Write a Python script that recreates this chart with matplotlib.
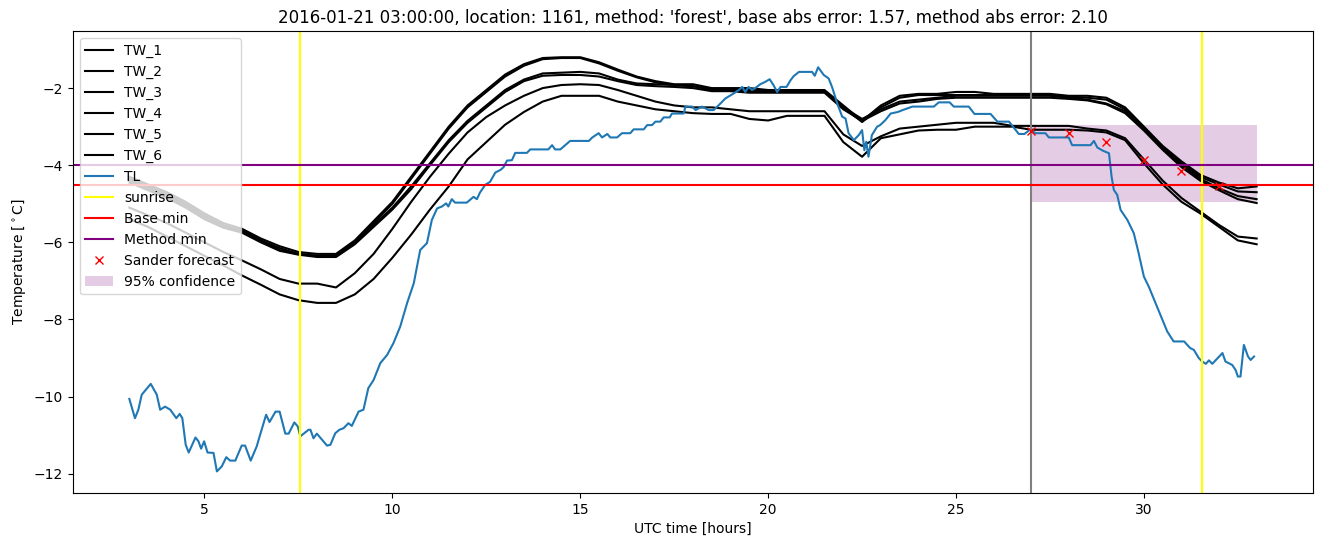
import numpy as np
from matplotlib import pyplot as plt

# time grid for the TW sensors (hours UTC from 2016-01-21 00:00)
tw_hours = np.arange(3.0, 33.01, 0.5)

tw_1 = [-4.30, -4.50, -4.70, -4.95, -5.25, -5.50, -5.65, -5.90, -6.10, -6.25,
        -6.30, -6.30, -5.95, -5.45, -4.95, -4.30, -3.65, -3.00, -2.45, -2.05,
        -1.65, -1.38, -1.22, -1.20, -1.20, -1.33, -1.52, -1.70, -1.82, -1.90,
        -1.90, -2.00, -2.00, -2.00, -2.05, -2.05, -2.05, -2.05, -2.45, -2.85,
        -2.45, -2.20, -2.15, -2.15, -2.10, -2.10, -2.15, -2.15, -2.15, -2.15,
        -2.20, -2.20, -2.25, -2.50, -3.00, -3.50, -3.90, -4.25, -4.45, -4.60, -4.55]
tw_2 = [-4.35, -4.55, -4.75, -5.00, -5.30, -5.55, -5.70, -5.95, -6.15, -6.30,
        -6.35, -6.35, -6.00, -5.50, -5.00, -4.35, -3.70, -3.05, -2.50, -2.10,
        -1.70, -1.42, -1.25, -1.22, -1.22, -1.36, -1.55, -1.72, -1.85, -1.92,
        -1.95, -2.02, -2.02, -2.05, -2.08, -2.08, -2.08, -2.08, -2.50, -2.88,
        -2.50, -2.25, -2.18, -2.18, -2.18, -2.18, -2.18, -2.18, -2.18, -2.18,
        -2.22, -2.25, -2.30, -2.55, -3.05, -3.55, -3.95, -4.30, -4.50, -4.68, -4.70]
tw_3 = [-4.40, -4.60, -4.80, -5.05, -5.35, -5.60, -5.70, -5.95, -6.20, -6.30,
        -6.35, -6.35, -6.00, -5.55, -5.10, -4.55, -3.95, -3.35, -2.85, -2.45,
        -2.05, -1.78, -1.62, -1.60, -1.58, -1.62, -1.78, -1.88, -1.90, -1.92,
        -1.95, -2.05, -2.05, -2.10, -2.10, -2.10, -2.10, -2.10, -2.50, -2.80,
        -2.55, -2.35, -2.30, -2.25, -2.20, -2.20, -2.20, -2.20, -2.20, -2.20,
        -2.25, -2.30, -2.40, -2.60, -3.05, -3.55, -4.00, -4.35, -4.60, -4.80, -4.88]
tw_4 = [-4.45, -4.65, -4.85, -5.10, -5.40, -5.62, -5.75, -6.00, -6.22, -6.32,
        -6.38, -6.38, -6.05, -5.60, -5.15, -4.62, -4.00, -3.40, -2.90, -2.50,
        -2.10, -1.82, -1.68, -1.66, -1.66, -1.70, -1.82, -1.92, -1.95, -1.97,
        -2.00, -2.08, -2.08, -2.12, -2.12, -2.12, -2.12, -2.12, -2.55, -2.85,
        -2.60, -2.40, -2.35, -2.28, -2.25, -2.25, -2.25, -2.25, -2.25, -2.25,
        -2.28, -2.32, -2.42, -2.65, -3.10, -3.60, -4.05, -4.40, -4.65, -4.88, -4.98]
tw_5 = [-5.10, -5.30, -5.50, -5.75, -6.00, -6.25, -6.47, -6.70, -6.95, -7.07,
        -7.07, -7.17, -6.80, -6.30, -5.65, -4.95, -4.30, -3.70, -3.15, -2.75,
        -2.45, -2.20, -2.00, -1.92, -1.90, -1.92, -2.05, -2.20, -2.35, -2.45,
        -2.50, -2.50, -2.55, -2.60, -2.60, -2.60, -2.60, -2.60, -3.20, -3.50,
        -3.25, -3.05, -3.00, -2.95, -2.90, -2.90, -2.90, -2.98, -2.98, -2.98,
        -2.98, -3.05, -3.10, -3.30, -3.85, -4.40, -4.85, -5.20, -5.55, -5.85, -5.90]
tw_6 = [-5.40, -5.60, -5.85, -6.10, -6.35, -6.60, -6.86, -7.10, -7.35, -7.50,
        -7.57, -7.57, -7.35, -6.95, -6.40, -5.80, -5.15, -4.55, -3.85, -3.40,
        -2.95, -2.62, -2.35, -2.20, -2.20, -2.20, -2.35, -2.45, -2.55, -2.60,
        -2.65, -2.67, -2.67, -2.80, -2.84, -2.72, -2.72, -2.72, -3.40, -3.78,
        -3.30, -3.20, -3.10, -3.08, -3.08, -3.00, -3.00, -3.00, -3.08, -3.08,
        -3.08, -3.10, -3.15, -3.35, -3.95, -4.50, -4.95, -5.25, -5.60, -5.95, -6.05]

tl_hours = [3.00, 3.15, 3.24, 3.33, 3.57, 3.73, 3.82, 3.95, 4.09, 4.25, 4.34, 4.41,
            4.50, 4.58, 4.76, 4.84, 4.91, 4.99, 5.08, 5.24, 5.33, 5.46, 5.58, 5.68,
            5.82, 5.99, 6.08, 6.23, 6.39, 6.48, 6.64, 6.73, 6.89, 7.00, 7.15, 7.24,
            7.39, 7.48, 7.55, 7.77, 7.82, 7.90, 7.99, 8.26, 8.35, 8.48, 8.59, 8.70,
            8.83, 8.92, 9.10, 9.23, 9.36, 9.50, 9.68, 9.86, 10.03, 10.21, 10.39, 10.57,
            10.74, 10.92, 11.05, 11.19, 11.32, 11.43, 11.49, 11.58, 11.67, 11.98, 12.16, 12.25,
            12.33, 12.47, 12.60, 12.74, 12.88, 12.96, 13.05, 13.18, 13.27, 13.58, 13.67, 14.15,
            14.25, 14.33, 14.47, 14.60, 14.73, 15.23, 15.32, 15.49, 15.58, 15.72, 15.80, 15.98,
            16.11, 16.33, 16.42, 16.69, 16.78, 16.91, 17.00, 17.13, 17.22, 17.38, 17.44, 17.75,
            17.80, 17.98, 18.07, 18.24, 18.42, 18.55, 18.73, 18.86, 19.08, 19.22, 19.31, 19.39,
            19.48, 19.57, 19.70, 19.79, 19.92, 20.04, 20.14, 20.24, 20.33, 20.49, 20.60, 20.68,
            20.82, 21.17, 21.24, 21.33, 21.48, 21.61, 21.70, 21.84, 21.97, 22.06, 22.14, 22.28,
            22.41, 22.50, 22.56, 22.61, 22.67, 22.76, 22.90, 22.98, 23.12, 23.26, 23.45, 23.58,
            23.84, 24.41, 24.54, 24.83, 24.94, 25.34, 25.49, 25.92, 26.10, 26.41, 26.67, 26.82,
            26.98, 27.11, 27.38, 27.47, 28.00, 28.09, 28.58, 28.67, 28.76, 28.90, 29.07, 29.14,
            29.20, 29.29, 29.38, 29.56, 29.73, 29.84, 30.00, 30.13, 30.35, 30.62, 30.79, 31.07,
            31.23, 31.33, 31.46, 31.55, 31.65, 31.73, 31.82, 32.09, 32.17, 32.35, 32.44, 32.50,
            32.57, 32.66, 32.77, 32.84, 32.93]
tl = [-10.06, -10.56, -10.34, -9.95, -9.67, -9.95, -10.34, -10.26, -10.34, -10.56, -10.45, -10.56,
      -11.25, -11.45, -11.06, -11.16, -11.35, -11.16, -11.45, -11.46, -11.94, -11.81, -11.57, -11.66,
      -11.66, -11.27, -11.27, -11.66, -11.29, -10.99, -10.47, -10.66, -10.39, -10.39, -10.96, -10.96,
      -10.67, -10.77, -11.03, -10.86, -10.86, -11.08, -10.96, -11.27, -11.25, -10.95, -10.86, -10.82,
      -10.69, -10.76, -10.39, -10.34, -9.78, -9.57, -9.13, -8.92, -8.61, -8.18, -7.58, -7.06,
      -6.20, -6.02, -5.42, -5.12, -5.07, -4.99, -5.07, -4.88, -4.97, -4.97, -4.82, -4.88,
      -4.71, -4.51, -4.43, -4.19, -4.12, -4.05, -3.88, -3.87, -3.68, -3.68, -3.59, -3.59,
      -3.48, -3.59, -3.59, -3.48, -3.37, -3.37, -3.28, -3.17, -3.28, -3.19, -3.28, -3.28,
      -3.17, -3.17, -3.07, -3.07, -2.96, -2.96, -2.87, -2.87, -2.76, -2.76, -2.66, -2.66,
      -2.48, -2.48, -2.57, -2.48, -2.57, -2.57, -2.40, -2.27, -2.14, -2.05, -1.97, -2.10,
      -1.97, -2.05, -1.97, -1.90, -1.84, -1.77, -1.92, -2.10, -1.97, -1.97, -1.79, -1.69,
      -1.58, -1.58, -1.68, -1.46, -1.66, -1.75, -1.97, -2.40, -2.74, -2.79, -3.17, -3.35,
      -3.22, -3.09, -3.61, -3.39, -3.78, -3.22, -3.00, -2.96, -2.83, -2.66, -2.62, -2.57,
      -2.48, -2.48, -2.37, -2.37, -2.48, -2.48, -2.67, -2.67, -2.87, -2.87, -3.19, -3.19,
      -3.07, -3.17, -3.17, -3.28, -3.28, -3.48, -3.48, -3.37, -3.54, -3.62, -3.69, -4.30,
      -4.64, -4.77, -5.16, -5.42, -5.76, -6.20, -6.89, -7.15, -7.67, -8.31, -8.57, -8.57,
      -8.74, -8.79, -9.00, -9.09, -9.15, -9.06, -9.15, -8.87, -9.09, -9.18, -9.31, -9.48,
      -9.48, -8.66, -8.96, -9.05, -8.96]

sunrise_hours = [7.55, 31.55]
forecast_start = 27.0
base_min = -4.52
method_min = -3.99
sander_hours = [27, 28, 29, 30, 31, 32]
sander_forecast = [-3.10, -3.16, -3.39, -3.86, -4.14, -4.53]
conf_low = -4.96
conf_high = -2.97


def main():
    fig = plt.figure(figsize=(13.22, 5.47), dpi=100)
    ax = fig.add_subplot(111)

    for i, tw in enumerate([tw_1, tw_2, tw_3, tw_4, tw_5, tw_6]):
        ax.plot(tw_hours, tw, color="black", label="TW_%d" % (i + 1))
    ax.plot(tl_hours, tl, color="C0", label="TL")

    for j, sr in enumerate(sunrise_hours):
        ax.axvline(sr, color="yellow", label="sunrise" if j == 0 else None)
    ax.axvline(forecast_start, color="gray")
    ax.axhline(base_min, color="red", label="Base min")
    ax.axhline(method_min, color="purple", label="Method min")
    ax.plot(sander_hours, sander_forecast, "rx", label="Sander forecast")
    ax.fill_between([forecast_start, tw_hours[-1]], conf_low, conf_high,
                    color="purple", alpha=0.2, linewidth=0, zorder=0.5,
                    label="95% confidence")

    ax.set_ylim(-12.5, -0.52)
    ax.set_xlabel("UTC time [hours]")
    ax.set_ylabel("Temperature [$^\\circ$C]")
    ax.set_title("2016-01-21 03:00:00, location: 1161, method: 'forest', "
                 "base abs error: 1.57, method abs error: 2.10")
    ax.legend(loc="upper left")

    fig.subplots_adjust(left=0.0552, right=0.9932, top=0.9433, bottom=0.0987)
    fig.savefig("out.png")


if __name__ == "__main__":
    main()
